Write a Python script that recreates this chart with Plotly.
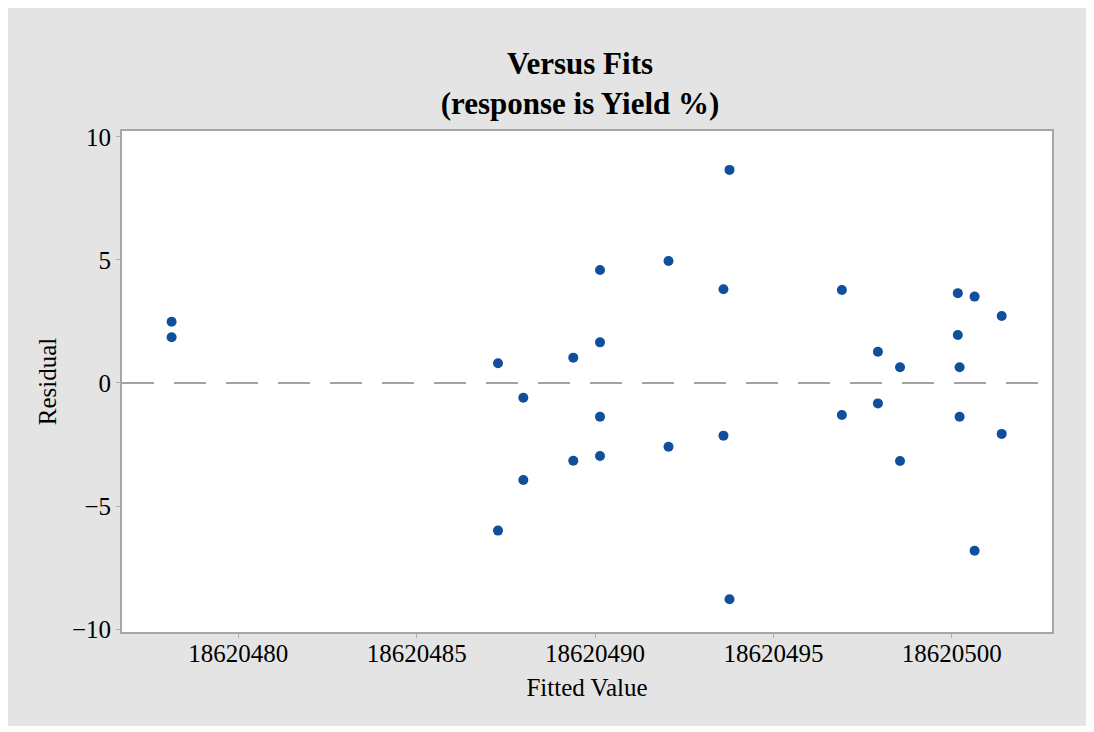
import plotly.graph_objects as go

# Fitted values and residuals
fitted = [
    18620478.13, 18620478.13,
    18620487.28, 18620487.28,
    18620487.99, 18620487.99,
    18620489.39, 18620489.39,
    18620490.14, 18620490.14, 18620490.14, 18620490.14,
    18620492.06, 18620492.06,
    18620493.60, 18620493.60,
    18620493.77, 18620493.77,
    18620496.92, 18620496.92,
    18620497.93, 18620497.93,
    18620498.55, 18620498.55,
    18620500.17, 18620500.17,
    18620500.22, 18620500.22,
    18620500.64, 18620500.64,
    18620501.40, 18620501.40,
]
residual = [
    2.49, 1.86,
    0.80, -6.00,
    -0.60, -3.94,
    1.03, -3.16,
    4.59, 1.65, -1.37, -2.97,
    4.96, -2.59,
    3.81, -2.14,
    8.66, -8.79,
    3.78, -1.30,
    1.27, -0.83,
    0.64, -3.17,
    3.65, 1.95,
    0.64, -1.37,
    3.51, -6.82,
    2.72, -2.07,
]

x_ticks = [18620480, 18620485, 18620490, 18620495, 18620500]
x_tick_labels = ["18620480", "18620485", "18620490", "18620495", "18620500"]
y_ticks = [-10, -5, 0, 5, 10]
y_tick_labels = ["\u221210", "\u22125", "0", "5", "10"]

FONT = "Liberation Serif"

fig = go.Figure()
fig.add_trace(go.Scatter(
    x=fitted, y=residual, mode="markers",
    marker=dict(size=10, color="#0f4f9c", line=dict(width=0)),
    showlegend=False, hoverinfo="x+y",
))

fig.add_hline(y=0, line=dict(color="#a3a3a3", width=2, dash="32px,20px"), layer="below")

fig.update_layout(
    width=1078, height=718,
    margin=dict(l=114, r=34, t=123, b=94),
    paper_bgcolor="#e4e4e4",
    plot_bgcolor="white",
    font=dict(family=FONT, color="black", size=25),
    title=dict(
        text="<b>Versus Fits</b><br><b>(response is Yield %)</b>",
        x=(580 - 8) / 1078, xref="container", xanchor="center",
        y=1 - 66 / 718, yref="container", yanchor="middle",
        font=dict(family=FONT, size=31, color="black"),
    ),
    xaxis=dict(
        range=[18620476.74, 18620502.81],
        tickmode="array", tickvals=x_ticks, ticktext=x_tick_labels,
        showgrid=False, zeroline=False,
        showline=True, linecolor="#a6a6a6", linewidth=2, mirror=True,
        ticks="outside", ticklen=4, tickcolor="#b0b0b0", tickwidth=1,
        ticklabelstandoff=-6,
        tickfont=dict(family=FONT, size=25, color="black"),
        title=dict(text="Fitted Value", font=dict(family=FONT, size=25, color="black"), standoff=12),
    ),
    yaxis=dict(
        range=[-10.12, 10.24],
        tickmode="array", tickvals=y_ticks, ticktext=y_tick_labels,
        showgrid=False, zeroline=False,
        showline=True, linecolor="#a6a6a6", linewidth=2, mirror=True,
        ticks="outside", ticklen=4, tickcolor="#b0b0b0", tickwidth=1,
        tickfont=dict(family=FONT, size=25, color="black"),
        title=dict(text="Residual", font=dict(family=FONT, size=25, color="black"), standoff=8),
    ),
)

fig.write_html("out.html")
